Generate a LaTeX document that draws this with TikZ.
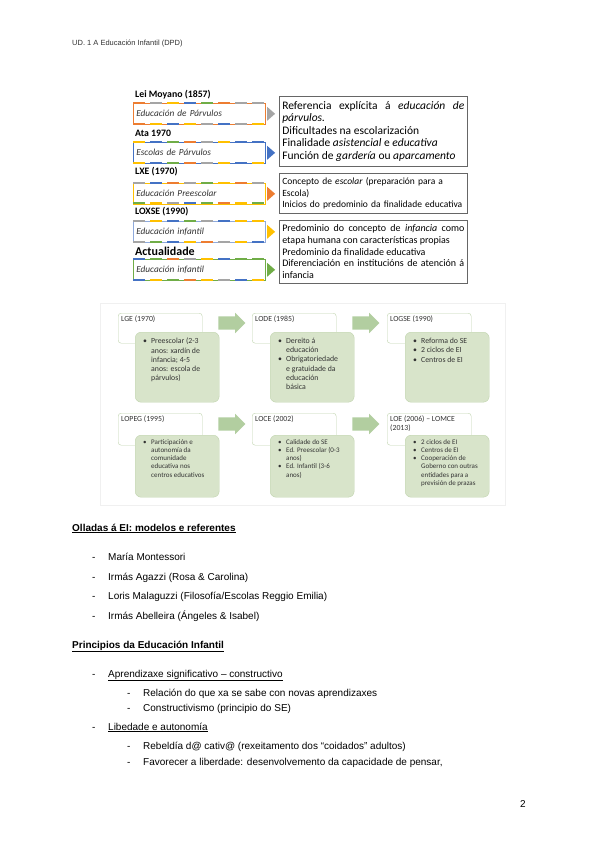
\documentclass[tikz,border=0pt]{standalone}
\usepackage{fontspec}
\setmainfont{Liberation Sans}
\newfontfamily\calfont{Carlito}
\usepackage{tikz}
\usetikzlibrary{positioning,shapes.arrows,calc}
\definecolor{offorange}{RGB}{237,125,49}
\definecolor{offgray}{RGB}{165,165,165}
\definecolor{offgold}{RGB}{255,192,0}
\definecolor{offblue}{RGB}{68,114,196}
\definecolor{offgreen}{RGB}{112,173,71}
\definecolor{sagefill}{RGB}{216,228,202}
\definecolor{sageline}{RGB}{192,212,174}
\definecolor{sagearrow}{RGB}{178,206,160}
% coloured stripe above / below a stage box: y, colour list
\newcommand{\stripe}[2]{\foreach \c [count=\i from 0] in {#2}{\draw[\c, line width=2.3pt] ({133+\i*17},#1) -- ++(12,0);}}
% bullet line inside the green boxes
\newcommand{\bitem}[1]{\par\noindent\hangindent=10pt\hangafter=1\hspace*{2pt}\makebox[8pt][l]{\textbullet}{\let\\\newline#1}\par}
\tikzset{
  lawname/.style={anchor=west, inner sep=0pt, font=\calfont\bfseries\fontsize{9.8}{11}\selectfont},
  stagebox/.style={draw, line width=0.6pt, anchor=north west, text width=126pt, align=left, minimum height=21pt, inner xsep=3pt, font=\calfont\itshape\fontsize{9.3}{10}\selectfont, text=black!80},
  notebox/.style={draw=black!60, line width=0.6pt, anchor=north west, text width=182pt, inner xsep=3pt, inner ysep=2pt, font=\calfont\fontsize{9.5}{11.5}\selectfont},
  lawtag/.style={rounded corners=3pt, draw=sageline, fill=white, anchor=north west, inner sep=3pt, font=\calfont\fontsize{7.8}{9}\selectfont, text=black!80},
  greenbox/.style={rounded corners=6pt, draw=sageline, fill=sagefill, anchor=north west, inner sep=4pt, minimum width=84pt, text=black!80},
  stepper/.style={single arrow, fill=sagearrow, draw=none, minimum height=27pt, inner xsep=0pt, inner ysep=6.5pt, single arrow head extend=3.5pt},
  bodytext/.style={anchor=base west, inner sep=0pt, font=\fontsize{10}{12}\selectfont},
  heading/.style={anchor=base west, inner sep=0pt, font=\bfseries\fontsize{10}{12}\selectfont},
}
\begin{document}
\begin{tikzpicture}[x=1pt,y=-1pt]
  \useasboundingbox[fill=white] (0,0) rectangle (600,848);
  \node[anchor=base west, inner sep=0pt, font=\fontsize{7.5}{9}\selectfont, text=black!80] (header) at (72,46) {UD. 1 A Educación Infantil (DPD)};

  % stages, upper diagram
  \node[lawname] (n1) at (135,95) {Lei Moyano (1857)};
  \node[stagebox, draw=offorange] (st1) at (133,103) {Educación de Párvulos};
  \stripe{103}{offorange,offgray,offgold,offblue,offgreen,offorange,offgray,offgray}
  \stripe{124}{offorange,offgold,offblue,offgold,offgray,offblue,offgray,offgold}
  \fill[offgray] ($(st1.east)+(1.5,-7)$) -- ++(8,7) -- ++(-8,7) -- cycle;

  \node[lawname] (n2) at (135,133) {Ata 1970};
  \node[stagebox, draw=offblue] (st2) at (133,142) {Escolas de Párvulos};
  \stripe{142}{offgold,offblue,offgreen,offorange,offgray,offgold,offblue,offblue}
  \stripe{163}{offgold,offblue,offgreen,offorange,offgray,offgold,offblue,offgold}
  \fill[offblue] ($(st2.east)+(1.5,-7)$) -- ++(8,7) -- ++(-8,7) -- cycle;

  \node[lawname] (n3) at (135,172) {LXE (1970)};
  \node[stagebox, draw=offgold] (st3) at (133,183) {Educación Preescolar};
  \stripe{183}{offgray,offblue,offorange,offgray,offgreen,offgold,offorange,offgray}
  \stripe{203}{offgreen,offgold,offgray,offblue,offgreen,offorange,offgold,offgreen}
  \fill[offorange] ($(st3.east)+(1.5,-7)$) -- ++(8,7) -- ++(-8,7) -- cycle;

  \node[lawname] (n4) at (135,212) {LOXSE (1990)};
  \node[stagebox, draw=offblue!60] (st4) at (133,221) {Educación infantil};
  \stripe{221}{offgray,offgold,offblue,offgreen,offgray,offblue,offgold,offgold}
  \stripe{242}{offgray,offgreen,offblue,offgold,offorange,offgray,offgold,offblue}
  \fill[offgold] ($(st4.east)+(1.5,-7)$) -- ++(8,7) -- ++(-8,7) -- cycle;

  \node[lawname, font=\calfont\bfseries\fontsize{12}{13}\selectfont] (n5) at (135,251) {Actualidade};
  \node[stagebox, draw=offgreen] (st5) at (133,259) {Educación infantil};
  \stripe{259}{offblue,offgreen,offorange,offgray,offgold,offblue,offgreen,offgreen}
  \stripe{280}{offblue,offgold,offgreen,offorange,offgold,offgray,offblue,offgold}
  \fill[offgreen] ($(st5.east)+(1.5,-7)$) -- ++(8,7) -- ++(-8,7) -- cycle;

  % notes on the right
  \node[notebox, align=justify, minimum height=70pt, font=\calfont\fontsize{11.5}{12.5}\selectfont] (nt1) at (279,96)
    {Referencia explícita á \emph{educación de párvulos.}\\ Dificultades na escolarización\\ Finalidade \emph{asistencial} e \emph{educativa}\\ Función de \emph{gardería} ou \emph{aparcamento}};
  \node[notebox, align=left, minimum height=40pt] (nt2) at (279,173)
    {Concepto de \emph{escolar} (preparación para a\\ Escola)\\ Inicios do predominio da finalidade educativa};
  \node[notebox, align=justify, minimum height=63pt, font=\calfont\fontsize{10}{11.7}\selectfont] (nt3) at (279,220)
    {Predominio do concepto de \emph{infancia} como etapa humana con características propias\\ Predominio da finalidade educativa\\ Diferenciación en institucións de atención á infancia};

  % laws, lower diagram
  \draw[black!6, fill=white] (100,303) rectangle (505,505);
  \node[lawtag] (t1) at (118,313) {\parbox[t][24pt][t]{78pt}{LGE (1970)}};
  \node[lawtag] (t2) at (252,313) {\parbox[t][24pt][t]{78pt}{LODE (1985)}};
  \node[lawtag] (t3) at (387,313) {\parbox[t][24pt][t]{78pt}{LOGSE (1990)}};
  \node[lawtag] (t4) at (118,413) {\parbox[t][26pt][t]{78pt}{LOPEG (1995)}};
  \node[lawtag] (t5) at (252,413) {\parbox[t][26pt][t]{78pt}{LOCE (2002)}};
  \node[lawtag] (t6) at (387,413) {\parbox[t][26pt][t]{78pt}{LOE (2006) – LOMCE\\ (2013)}};

  \node[greenbox] (g1) at (135,332) {\parbox[t][62pt][t]{72pt}{\raggedright\fontsize{7.8}{9.2}\calfont\selectfont\vspace*{2pt}
    \bitem{Preescolar (2-3\\ anos: xardín de\\ infancia; 4-5\\ anos: escola de\\ párvulos)}}};
  \node[greenbox] (g2) at (270,332) {\parbox[t][62pt][t]{72pt}{\raggedright\fontsize{7.8}{9.2}\calfont\selectfont\vspace*{2pt}
    \bitem{Dereito á\\ educación}\bitem{Obrigatoriedade\\ e gratuidade da\\ educación\\ básica}}};
  \node[greenbox] (g3) at (405,332) {\parbox[t][62pt][t]{72pt}{\raggedright\fontsize{7.8}{9.2}\calfont\selectfont\vspace*{2pt}
    \bitem{Reforma do SE}\bitem{2 ciclos de EI}\bitem{Centros de EI}}};
  \node[greenbox] (g4) at (135,435) {\parbox[t][54pt][t]{72pt}{\raggedright\fontsize{7}{8.3}\calfont\selectfont
    \bitem{Participación e\\ autonomía da\\ comunidade\\ educativa nos\\ centros educativos}}};
  \node[greenbox] (g5) at (270,435) {\parbox[t][54pt][t]{72pt}{\raggedright\fontsize{7}{8.3}\calfont\selectfont
    \bitem{Calidade do SE}\bitem{Ed. Preescolar (0-3\\ anos)}\bitem{Ed. Infantil (3-6\\ anos)}}};
  \node[greenbox] (g6) at (405,435) {\parbox[t][54pt][t]{72pt}{\raggedright\fontsize{7}{8.3}\calfont\selectfont
    \bitem{2 ciclos de EI}\bitem{Centros de EI}\bitem{Cooperación de\\ Goberno con outras\\ entidades para a\\ previsión de prazas}}};

  \node[stepper] (a1) at (228.5,323) {};
  \node[stepper] (a2) at (362.5,323) {};
  \node[stepper] (a3) at (228.5,424) {};
  \node[stepper] (a4) at (362.5,424) {};

  % text below
  \node[heading] (h1) at (72,531) {\underline{Olladas á EI: modelos e referentes}};
  \foreach \t [count=\i] in {María Montessori, Irmás Agazzi (Rosa \& Carolina), Loris Malaguzzi (Filosofía/Escolas Reggio Emilia), Irmás Abelleira (Ángeles \& Isabel)}{
    \node[bodytext] (rd\i) at (92,{541+\i*19.5}) {-};
    \node[bodytext] (ref\i) at (108,{541+\i*19.5}) {\t};
  }

  \node[heading] (h2) at (72,648) {\underline{Principios da Educación Infantil}};
  \node[bodytext] (pd1) at (92,677) {-};
  \node[bodytext] (p1) at (108,677) {\underline{Aprendizaxe significativo – constructivo}};
  \node[bodytext] (sd1) at (127,696) {-};
  \node[bodytext] (s1) at (143,696) {Relación do que xa se sabe con novas aprendizaxes};
  \node[bodytext] (sd2) at (127,711) {-};
  \node[bodytext] (s2) at (143,711) {Constructivismo (principio do SE)};
  \node[bodytext] (pd2) at (92,730) {-};
  \node[bodytext] (p2) at (108,730) {\underline{Libedade e autonomía}};
  \node[bodytext] (sd3) at (127,749) {-};
  \node[bodytext] (s3) at (143,749) {Rebeldía d@ cativ@ (rexeitamento dos “coidados” adultos)};
  \node[bodytext] (sd4) at (127,765) {-};
  \node[bodytext] (s4) at (143,765) {Favorecer a liberdade: desenvolvemento da capacidade de pensar,};

  \node[bodytext] (pageno) at (520,807) {2};
\end{tikzpicture}
\end{document}
